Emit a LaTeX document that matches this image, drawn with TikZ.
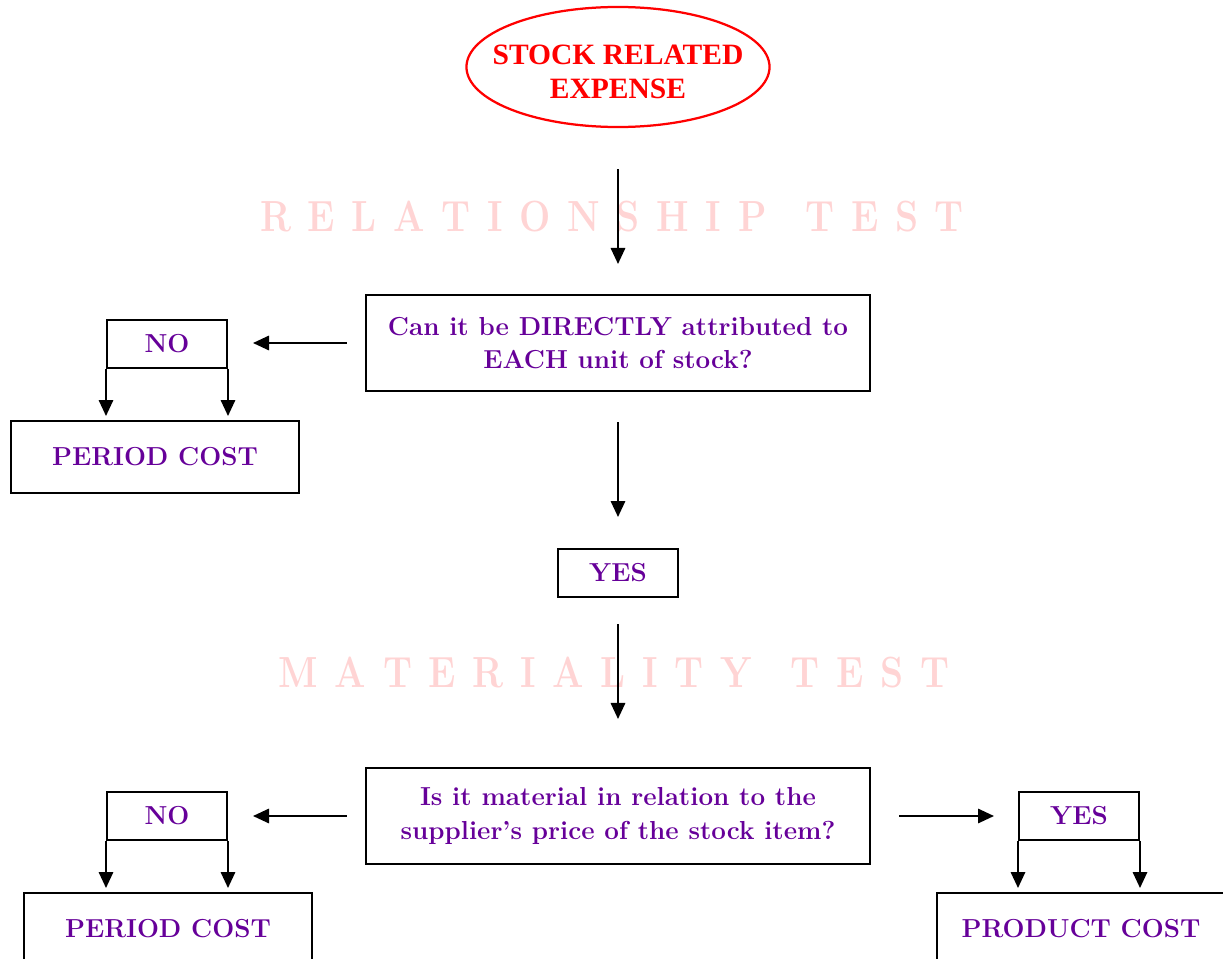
\documentclass[tikz,border=0pt]{standalone}
\usepackage{fontspec}
\usepackage{tikz}
\usetikzlibrary{shapes,arrows.meta}
\newfontfamily\headfont{Liberation Serif}
\definecolor{askpurple}{RGB}{102,0,153}
\definecolor{wmpink}{RGB}{255,212,212}
\tikzstyle{line} = [draw, line width=1.4pt, -{Triangle[length=0.4cm,width=0.36cm]}]
\tikzstyle{question} = [rectangle, draw=black, line width=1.4pt, minimum width=12.6cm, minimum height=2.4cm, align=center, text=askpurple, font=\bfseries\fontsize{18.5}{23.5}\selectfont]
\tikzstyle{answer} = [rectangle, draw=black, line width=1.4pt, minimum width=3cm, minimum height=1.2cm, text=askpurple, font=\bfseries\fontsize{18.5}{23.5}\selectfont]
\tikzstyle{cost} = [answer, minimum width=7.2cm, minimum height=1.8cm]
\tikzstyle{wmark} = [text=wmpink, inner sep=0pt, font=\bfseries\fontsize{31}{31}\selectfont]
% spaced out capitals for the test titles
\newcommand{\spreadword}[1]{\gdef\wmsep{}\foreach \ch in {#1}{\wmsep\ch\gdef\wmsep{\hspace{0.49cm}}}}

\begin{document}
\begin{tikzpicture}[x=0.025cm, y=-0.025cm]
        \clip (0,0) rectangle (1223,959);
        % watermarks
        \node (reltest) at (612,217) [wmark] {\scalebox{0.85}[1]{\spreadword{R,E,L,A,T,I,O,N,S,H,I,P}\hspace{1.14cm}\spreadword{T,E,S,T}}};
        \node (mattest) at (614,672) [wmark] {\scalebox{0.85}[1]{\spreadword{M,A,T,E,R,I,A,L,I,T,Y}\hspace{1.14cm}\spreadword{T,E,S,T}}};

        \node (expense) at (618,67) [ellipse, draw=red, line width=1.6pt, minimum width=7.575cm, minimum height=3cm] {};
        \node (expensetxt) at (expense) [yshift=-0.12cm, text=red, align=center, font=\headfont\bfseries\fontsize{21}{24}\selectfont] {STOCK RELATED\\EXPENSE};

        \node (direct) at (618,343) [question] {Can it be DIRECTLY attributed to\\EACH unit of stock?};
        \node (no1) at (167,344) [answer] {NO};
        \node (period1) at (155,457) [cost] {PERIOD COST};
        \node (yes1) at (618,573) [answer] {YES};

        \node (material) at (618,816) [question] {Is it material in relation to the\\supplier's price of the stock item?};
        \node (no2) at (167,816) [answer] {NO};
        \node (period2) at (168,929) [cost] {PERIOD COST};
        \node (yes2) at (1079,816) [answer] {YES};
        \node (product) at (1081,929) [cost] {PRODUCT COST};

        \path [line, shorten <=1.025cm, shorten >=0.75cm] (expense.south) -- (direct.north);
        \path [line, shorten <=0.45cm, shorten >=0.625cm] (direct.west) -- (direct.west -| no1.east);
        \path [line, shorten >=0.1cm] (no1.south west) -- (no1.south west |- period1.north);
        \path [line, shorten >=0.1cm] (no1.south east) -- (no1.south east |- period1.north);
        \path [line, shorten <=0.75cm, shorten >=0.775cm] (direct.south) -- (yes1.north);
        \path [line, shorten <=0.65cm, shorten >=1.2cm] (yes1.south) -- (material.north);

        \path [line, shorten <=0.45cm, shorten >=0.625cm] (material.west) -- (material.west -| no2.east);
        \path [line, shorten >=0.1cm] (no2.south west) -- (no2.south west |- period2.north);
        \path [line, shorten >=0.1cm] (no2.south east) -- (no2.south east |- period2.north);
        \path [line, shorten <=0.7cm, shorten >=0.6cm] (material.east) -- (material.east -| yes2.west);
        \path [line, shorten >=0.1cm] (yes2.south west) -- (yes2.south west |- product.north);
        \path [line, shorten >=0.1cm] (yes2.south east) -- (yes2.south east |- product.north);
\end{tikzpicture}
\end{document}
